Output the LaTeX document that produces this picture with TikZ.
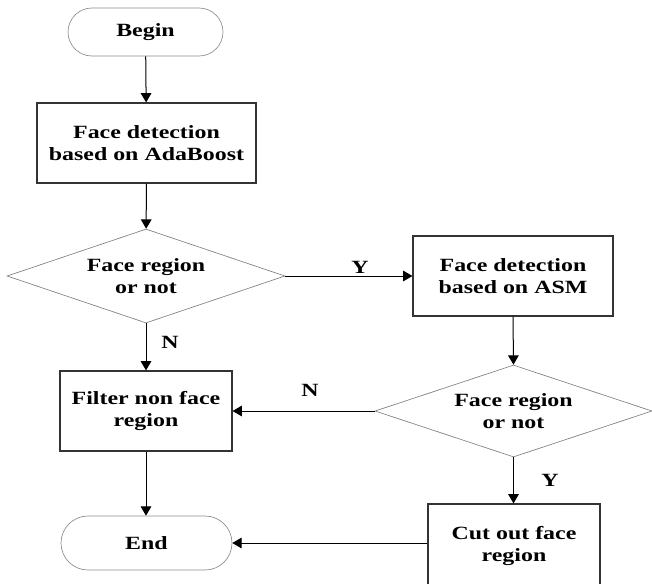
\documentclass[tikz,border=0pt]{standalone}
\usepackage{fontspec}
\setmainfont{Liberation Serif}[FakeStretch=1.28]
\usepackage{tikz}
\usetikzlibrary{shapes.geometric,shapes.misc,arrows.meta}

\newcommand{\flowfont}{\bfseries\fontsize{14}{16.5}\selectfont}
\tikzset{
  procbox/.style={draw=black!80, line width=0.9pt, rectangle, align=center, inner sep=0pt, font=\flowfont},
  termbox/.style={draw=black!45, line width=0.5pt, rounded rectangle, align=center, inner sep=0pt, font=\flowfont},
  choice/.style={draw=black!50, line width=0.5pt, diamond, aspect=2.96, align=center, inner sep=0pt, font=\flowfont},
  flowarrow/.style={line width=0.75pt, -{Triangle[length=7pt,width=8pt]}},
  branchlbl/.style={inner sep=0.75pt, font=\flowfont}
}

\begin{document}
\begin{tikzpicture}[x=0.75pt,y=0.75pt,yscale=-1,xscale=1]
\useasboundingbox (0,0) rectangle (652,583);

% Terminal
\node [termbox, minimum width=116.25pt, minimum height=36pt] (begin) at (145.5,32) {Begin};
% Process
\node [procbox, minimum width=164.25pt, minimum height=60pt] (adaboost) at (146.5,143) {Face detection\\based on AdaBoost};
% Decision
\node [choice, minimum width=208.5pt, minimum height=70.5pt] (regionA) at (146,276) {Face region\\or not};
% Process
\node [procbox, minimum width=150pt, minimum height=60pt] (asm) at (513,276) {Face detection\\based on ASM};
% Process
\node [procbox, minimum width=129pt, minimum height=60pt] (filter) at (146,411) {Filter non face\\region};
% Decision
\node [choice, minimum width=207.75pt, minimum height=69pt] (regionB) at (513.5,411) {Face region\\or not};
% Terminal
\node [termbox, minimum width=128.25pt, minimum height=40.5pt] (end) at (146.5,543) {End};
% Process
\node [procbox, minimum width=129pt, minimum height=63pt] (cutout) at (514,546) {Cut out face\\region};

%Straight Lines
\draw [flowarrow] (begin) -- (adaboost);
\draw [flowarrow] (adaboost) -- (regionA);
\draw [flowarrow] (regionA.east) -- (asm.west);
\draw [flowarrow] (regionA.south) -- (filter.north);
\draw [flowarrow] (asm.south) -- (regionB.north);
\draw [flowarrow] (regionB.west) -- (filter.east);
\draw [flowarrow] (regionB.south) -- (regionB.south |- cutout.north);
\draw [flowarrow] (filter.south) -- (filter.south |- end.north);
\draw [flowarrow] (cutout.west |- end.east) -- (end.east);

% Text Node
\node [branchlbl] (yesA) at (360,267) {Y};
% Text Node
\node [branchlbl] (noA) at (170,342) {N};
% Text Node
\node [branchlbl] (noB) at (310,390) {N};
% Text Node
\node [branchlbl] (yesB) at (550,480) {Y};

\end{tikzpicture}
\end{document}
